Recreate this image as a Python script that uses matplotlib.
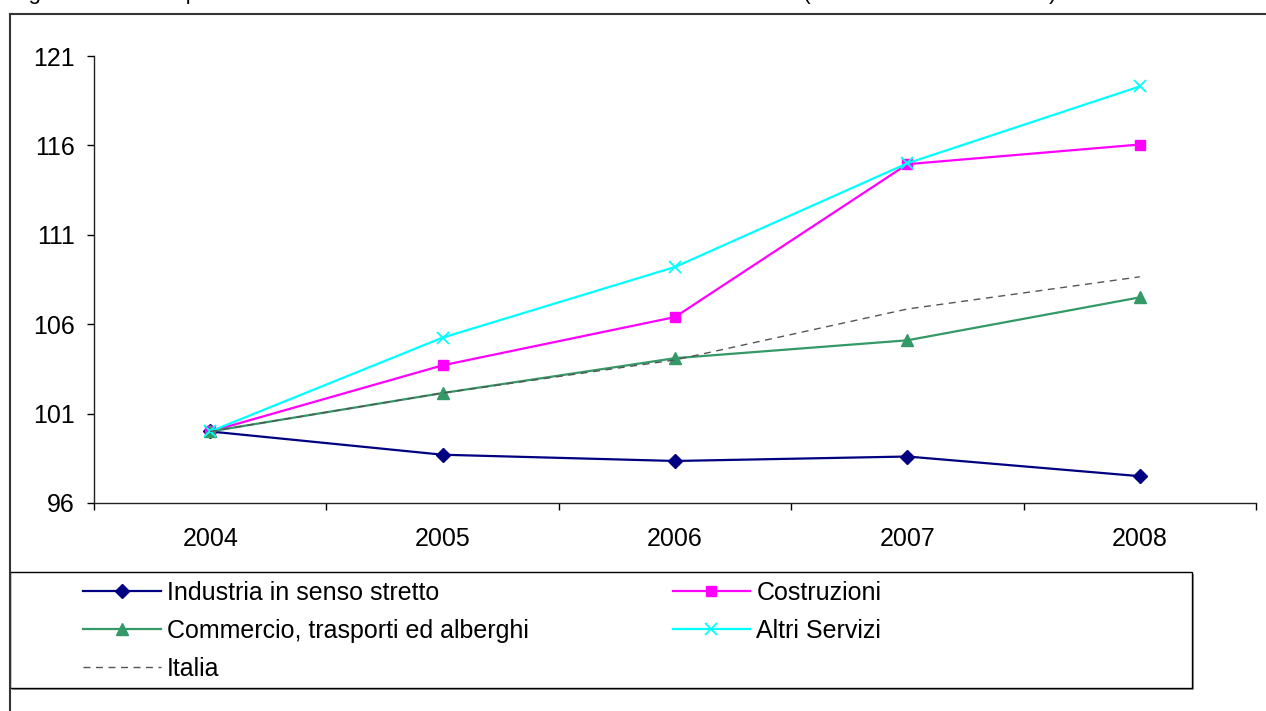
import matplotlib.pyplot as plt
from matplotlib.lines import Line2D
from matplotlib.patches import Rectangle

plt.rcParams['font.family'] = ['Liberation Sans', 'DejaVu Sans']

# index values, 2004 = 100
years = ['2004', '2005', '2006', '2007', '2008']
industria = [100.0, 98.7, 98.35, 98.6, 97.5]
costruzioni = [100.0, 103.7, 106.4, 114.95, 116.05]
commercio = [100.0, 102.15, 104.1, 105.1, 107.5]
altri_servizi = [100.0, 105.25, 109.2, 115.0, 119.3]
italia = [100.0, 102.15, 104.0, 106.85, 108.65]
y_ticks = [96, 101, 106, 111, 116, 121]

W, H = 1266, 711
FS = 18
fig = plt.figure(figsize=(W / 100, H / 100), dpi=100)
fig.patch.set_facecolor('white')

def fx(px):
    return px / W

def fy(py):
    return 1 - py / H

ax = fig.add_axes([fx(94), fy(503), fx(1256 - 94), (503 - 56) / H])

x = list(range(len(years)))
l_ind, = ax.plot(x, industria, color='#000080', lw=1.6, marker='D', ms=7,
                 label='Industria in senso stretto')
l_cos, = ax.plot(x, costruzioni, color='#FF00FF', lw=1.6, marker='s', ms=7,
                 label='Costruzioni')
l_com, = ax.plot(x, commercio, color='#339966', lw=1.6, marker='^', ms=8,
                 label='Commercio, trasporti ed alberghi')
l_alt, = ax.plot(x, altri_servizi, color='#00FFFF', lw=1.6, marker='x', ms=9,
                 mew=1.3, label='Altri Servizi')
l_ita, = ax.plot(x, italia, color='#555555', lw=1.0, ls=(0, (5, 4)),
                 label='Italia')

ax.set_xlim(-0.5, len(years) - 0.5)
ax.set_ylim(96, 121)
ax.set_yticks(y_ticks)
ax.set_xticks(x)
ax.set_xticklabels(years)
# category boundaries get the tick marks, labels sit in the middle
ax.set_xticks([i - 0.5 for i in range(len(years) + 1)], minor=True)
ax.tick_params(axis='x', which='major', length=0, labelsize=FS, pad=17)
ax.tick_params(axis='x', which='minor', length=5, width=1, direction='out')
ax.tick_params(axis='y', length=5, width=1, direction='out', labelsize=FS, pad=9)
for s in ['top', 'right']:
    ax.spines[s].set_visible(False)
for s in ['left', 'bottom']:
    ax.spines[s].set_color('#222222')
    ax.spines[s].set_linewidth(1)

# outer frame (partly cut at right and bottom)
fig.add_artist(Line2D([fx(10), fx(10)], [fy(14), 0], transform=fig.transFigure,
                      color='#333333', lw=1.5))
fig.add_artist(Line2D([fx(10), 1], [fy(14), fy(14)], transform=fig.transFigure,
                      color='#333333', lw=1.5))

# figure caption sits above the top edge, only its lowest part shows
fig.text(fx(10), fy(-1),
         'Figura 3 - Addetti per settore di attività economica nel distretto - '
         'Anni 2004-2008 (numeri indice 2004=100)',
         fontsize=16, va='baseline', ha='left')

# legend box with a light shadow
fig.add_artist(Rectangle((fx(12), fy(690)), fx(1192 - 10), (690 - 574) / H,
                         transform=fig.transFigure, facecolor='#999999',
                         edgecolor='none'))
fig.add_artist(Rectangle((fx(10), fy(688)), fx(1192 - 10), (688 - 572) / H,
                         transform=fig.transFigure, facecolor='white',
                         edgecolor='black', lw=1))

handles = [l_ind, l_com, l_ita, l_cos, l_alt]
leg = fig.legend(handles, [h.get_label() for h in handles], ncol=2,
                 loc='upper left', bbox_to_anchor=(fx(83), fy(581)),
                 frameon=False, fontsize=FS, handlelength=3.1,
                 handletextpad=0.25, columnspacing=5.76, borderpad=0,
                 labelspacing=0.56, borderaxespad=0)

fig.savefig('out.png', dpi=100)
